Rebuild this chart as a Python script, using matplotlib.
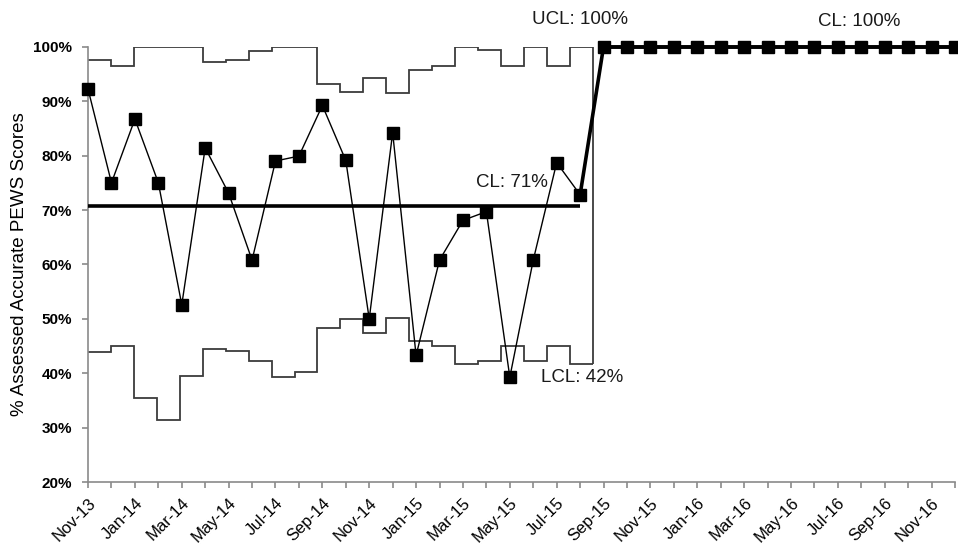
import matplotlib.pyplot as plt  # импортируем pyplot для построения графика
import numpy as np  # импортируем numpy для работы с позициями по оси X

plt.rcParams["font.family"] = ["Liberation Sans", "DejaVu Sans"]  # шрифт, похожий на Arial

# подписи месяцев по оси X
months = [
    "Nov-13", "Dec-13", "Jan-14", "Feb-14", "Mar-14", "Apr-14", "May-14", "Jun-14",
    "Jul-14", "Aug-14", "Sep-14", "Oct-14", "Nov-14", "Dec-14", "Jan-15", "Feb-15",
    "Mar-15", "Apr-15", "May-15", "Jun-15", "Jul-15", "Aug-15", "Sep-15", "Oct-15",
    "Nov-15", "Dec-15", "Jan-16", "Feb-16", "Mar-16", "Apr-16", "May-16", "Jun-16",
    "Jul-16", "Aug-16", "Sep-16", "Oct-16", "Nov-16", "Dec-16",
]

# фаза 1: доля корректно оценённых PEWS (Nov-13 .. Aug-15)
scores_phase1 = [92.2, 75.0, 86.7, 75.0, 52.6, 81.4, 73.1, 60.8, 79.0, 79.9, 89.2,
                 79.1, 50.0, 84.2, 43.3, 60.8, 68.1, 69.7, 39.3, 60.8, 78.7, 72.8]
# фаза 2: Sep-15 .. Dec-16
scores_phase2 = [100, 100, 100, 100, 100, 100, 100, 100,
                 100, 100, 100, 100, 100, 100, 100, 100]

# контрольные границы фазы 1
ucl_phase1 = [97.6, 96.5, 100, 100, 100, 97.1, 97.6, 99.2, 100, 100, 93.1,
              91.6, 94.2, 91.4, 95.7, 96.5, 100, 99.3, 96.5, 100, 96.5, 100]
lcl_phase1 = [44.0, 45.0, 35.5, 31.4, 39.5, 44.5, 44.1, 42.3, 39.4, 40.3, 48.3,
              49.9, 47.4, 50.2, 45.9, 45.0, 41.7, 42.3, 45.0, 42.3, 45.0, 41.7]
cl_phase1 = 70.8  # центральная линия фазы 1
cl_phase2 = 100  # центральная линия фазы 2

y_ticks = [20, 30, 40, 50, 60, 70, 80, 90, 100]

x1 = np.arange(len(scores_phase1))  # позиции точек фазы 1
x2 = np.arange(len(scores_phase1), len(months))  # позиции точек фазы 2
step_w = 0.979  # ширина ступени контрольных границ (в Excel чуть уже месяца)
edges = np.arange(len(ucl_phase1) + 1) * step_w  # границы ступеней

fig = plt.figure(figsize=(9.58, 5.48), dpi=100, facecolor="white")  # создаём фигуру
ax = fig.add_axes([0.0919, 0.1199, 0.905, 0.795])  # область построения

limit_color = "#3c3c3c"
ax.stairs(ucl_phase1, edges, baseline=None, color=limit_color, lw=1.3)  # UCL ступенькой
ax.stairs(lcl_phase1, edges, baseline=None, color=limit_color, lw=1.3)  # LCL ступенькой
ax.vlines(edges[-1], lcl_phase1[-1], ucl_phase1[-1], color=limit_color, lw=1.3)  # замыкающая вертикаль

ax.hlines(cl_phase1, x1[0], x1[-1], color="black", lw=2.6, zorder=3)  # центральная линия фазы 1
ax.hlines(cl_phase2, x2[0], x2[-1], color="black", lw=2.6, zorder=3, clip_on=False)  # центральная линия фазы 2

ax.plot(x1, scores_phase1, color="black", lw=1.0, marker="s", ms=9,
        zorder=5, clip_on=False)  # данные фазы 1
ax.plot([x1[-1], x2[0]], [scores_phase1[-1], scores_phase2[0]], color="black",
        lw=2.6, zorder=4, clip_on=False)  # переход между фазами
ax.plot(x2, scores_phase2, color="black", lw=2.6, marker="s", ms=8.5,
        zorder=5, clip_on=False)  # данные фазы 2

# подписи контрольных линий
ax.text(21.0, 104.9, "UCL: 100%", ha="center", va="center", fontsize=13.5, color="#1a1a1a")
ax.text(32.9, 104.6, "CL: 100%", ha="center", va="center", fontsize=13.5, color="#1a1a1a")
ax.text(18.1, 75.0, "CL: 71%", ha="center", va="center", fontsize=13.5, color="#1a1a1a")
ax.text(21.1, 39.3, "LCL: 42%", ha="center", va="center", fontsize=13.5, color="#1a1a1a")

ax.set_xlim(0, len(months) - 1)  # диапазон по оси X
ax.set_ylim(20, 100)  # диапазон по оси Y
ax.set_xticks(np.arange(len(months)))
ax.set_xticklabels([m if i % 2 == 0 else "" for i, m in enumerate(months)],
                   rotation=45, ha="right", va="top", rotation_mode="anchor", fontsize=12)
ax.set_yticks(y_ticks)
ax.set_yticklabels([f"{v}%" for v in y_ticks], fontsize=11, fontweight="bold")
ax.set_ylabel("% Assessed Accurate PEWS Scores", fontsize=13.5, labelpad=4)

for side in ["top", "right"]:  # убираем верхнюю и правую рамки
    ax.spines[side].set_visible(False)
for side in ["left", "bottom"]:
    ax.spines[side].set_color("#8a8a8a")
    ax.spines[side].set_linewidth(1.2)
ax.tick_params(axis="both", direction="out", length=4.5, color="#8a8a8a", width=1.2)
ax.tick_params(axis="x", pad=5)
ax.tick_params(axis="y", pad=7)

fig.savefig("out.png", dpi=100, facecolor="white")  # сохраняем результат
plt.close(fig)
